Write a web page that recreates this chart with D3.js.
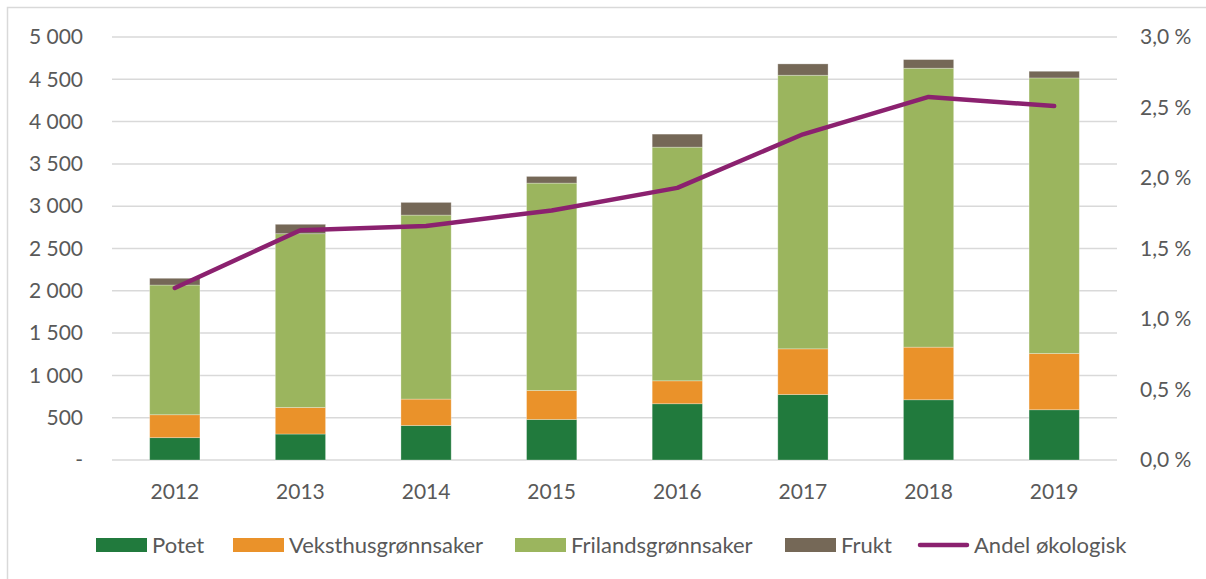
<!DOCTYPE html>
<html>
<head>
<meta charset="utf-8">
<script src="https://cdn.jsdelivr.net/npm/d3@7"></script>
<style>
    body { margin: 0; background: #fff; }
    svg text { font-family: Lato, "Open Sans", sans-serif; fill: #595959; }
</style>
</head>
<body>
<div id="chart"></div>
<script>
// data
var years = ["2012", "2013", "2014", "2015", "2016", "2017", "2018", "2019"];
var potet = [264, 307, 408, 479, 665, 774, 712, 594];
var veksthus = [271, 314, 312, 343, 271, 540, 622, 665];
var friland = [1533, 2054, 2175, 2451, 2762, 3234, 3297, 3257];
var frukt = [80, 111, 150, 79, 154, 134, 102, 79];
var andel = [1.22, 1.63, 1.66, 1.77, 1.93, 2.31, 2.575, 2.51];

var seriesNames = ["Potet", "Veksthusgrønnsaker", "Frilandsgrønnsaker", "Frukt"];
var lineName = "Andel økologisk";
var leftTicks = [0, 500, 1000, 1500, 2000, 2500, 3000, 3500, 4000, 4500, 5000];
var rightTicks = [0, 0.5, 1.0, 1.5, 2.0, 2.5, 3.0];

function init() {
    var W = 1206, H = 579;
    var margin = {top: 37, right: 89, bottom: 119, left: 112};
    var w = W - margin.left - margin.right;
    var h = H - margin.top - margin.bottom;

    var colors = ["#217a3d", "#ea922a", "#9bb55e", "#756857"];
    var lineColor = "#8b216f";

    var svg = d3.select("#chart")
        .append("svg")
        .attr("width", W)
        .attr("height", H);

    // chart frame
    svg.append("rect")
        .attr("x", 7.5).attr("y", 7.5)
        .attr("width", W + 20).attr("height", H + 20)
        .attr("fill", "none")
        .attr("stroke", "#d9d9d9")
        .attr("stroke-width", 1.5);

    var g = svg.append("g")
        .attr("transform", "translate(" + margin.left + "," + margin.top + ")");

    var dataset = years.map(function(y, i) {
        return {year: y, Potet: potet[i], "Veksthusgrønnsaker": veksthus[i],
                "Frilandsgrønnsaker": friland[i], Frukt: frukt[i], andel: andel[i]};
    });

    var x = d3.scaleBand().domain(years).range([0, w]).paddingInner(0.6).paddingOuter(0.3);
    var y = d3.scaleLinear().domain([0, 5000]).range([h, 0]);
    var y2 = d3.scaleLinear().domain([0, 3.0]).range([h, 0]);

    // gridlines
    g.append("g")
        .selectAll("line")
        .data(leftTicks)
        .enter().append("line")
        .attr("x1", 0).attr("x2", w)
        .attr("y1", function(d) { return y(d); })
        .attr("y2", function(d) { return y(d); })
        .attr("stroke", "#d9d9d9")
        .attr("stroke-width", 1.5);

    // left axis
    var fmt = function(d) {
        if (d === 0) return "-";
        return d3.format(",")(d).replace(/,/g, " ");
    };
    var yAxis = g.append("g")
        .call(d3.axisLeft(y).tickValues(leftTicks).tickFormat(fmt).tickSize(0).tickPadding(29));
    yAxis.select(".domain").remove();
    yAxis.selectAll("text").style("font-size", "21px");

    // right axis
    var y2Axis = g.append("g")
        .attr("transform", "translate(" + w + ",0)")
        .call(d3.axisRight(y2).tickValues(rightTicks)
            .tickFormat(function(d) { return d3.format(".1f")(d).replace(".", ",") + " %"; })
            .tickSize(0).tickPadding(23));
    y2Axis.select(".domain").remove();
    y2Axis.selectAll("text").style("font-size", "21px");

    // x axis
    var xAxis = g.append("g")
        .attr("transform", "translate(0," + h + ")")
        .call(d3.axisBottom(x).tickSize(0).tickPadding(24));
    xAxis.select(".domain").remove();
    xAxis.selectAll("text").style("font-size", "21px");

    // stacked bars
    var stack = d3.stack().keys(seriesNames);
    var series = stack(dataset);

    g.append("g")
        .selectAll("g")
        .data(series)
        .enter().append("g")
        .attr("fill", function(d, i) { return colors[i]; })
        .selectAll("rect")
        .data(function(d) { return d; })
        .enter().append("rect")
        .attr("x", function(d) { return x(d.data.year); })
        .attr("y", function(d) { return y(d[1]); })
        .attr("height", function(d) { return y(d[0]) - y(d[1]); })
        .attr("width", x.bandwidth())
        .attr("stroke", "#ffffff")
        .attr("stroke-opacity", 0.35)
        .attr("stroke-width", 0.8);

    // line
    var line = d3.line()
        .x(function(d) { return x(d.year) + x.bandwidth() / 2; })
        .y(function(d) { return y2(d.andel); });

    g.append("path")
        .datum(dataset)
        .attr("d", line)
        .attr("fill", "none")
        .attr("stroke", lineColor)
        .attr("stroke-width", 4.5)
        .attr("stroke-linecap", "round")
        .attr("stroke-linejoin", "round");

    // legend
    var legendItems = seriesNames.map(function(n, i) { return {name: n, color: colors[i], type: "box"}; });
    legendItems.push({name: lineName, color: lineColor, type: "line"});
    var legendX = [96, 233, 515, 785, 918];

    var legend = svg.append("g").attr("transform", "translate(0,545)");
    var items = legend.selectAll("g")
        .data(legendItems)
        .enter().append("g")
        .attr("transform", function(d, i) { return "translate(" + legendX[i] + ",0)"; });

    items.filter(function(d) { return d.type === "box"; })
        .append("rect")
        .attr("x", 0).attr("y", -7)
        .attr("width", 51).attr("height", 14)
        .attr("fill", function(d) { return d.color; });

    items.filter(function(d) { return d.type === "line"; })
        .append("line")
        .attr("x1", 2).attr("x2", 49)
        .attr("y1", 0).attr("y2", 0)
        .attr("stroke", function(d) { return d.color; })
        .attr("stroke-width", 4.5)
        .attr("stroke-linecap", "round");

    items.append("text")
        .attr("x", 56)
        .attr("y", 0)
        .attr("dy", "0.35em")
        .style("font-size", "22px")
        .text(function(d) { return d.name; });
}

window.onload = init;
</script>
</body>
</html>
